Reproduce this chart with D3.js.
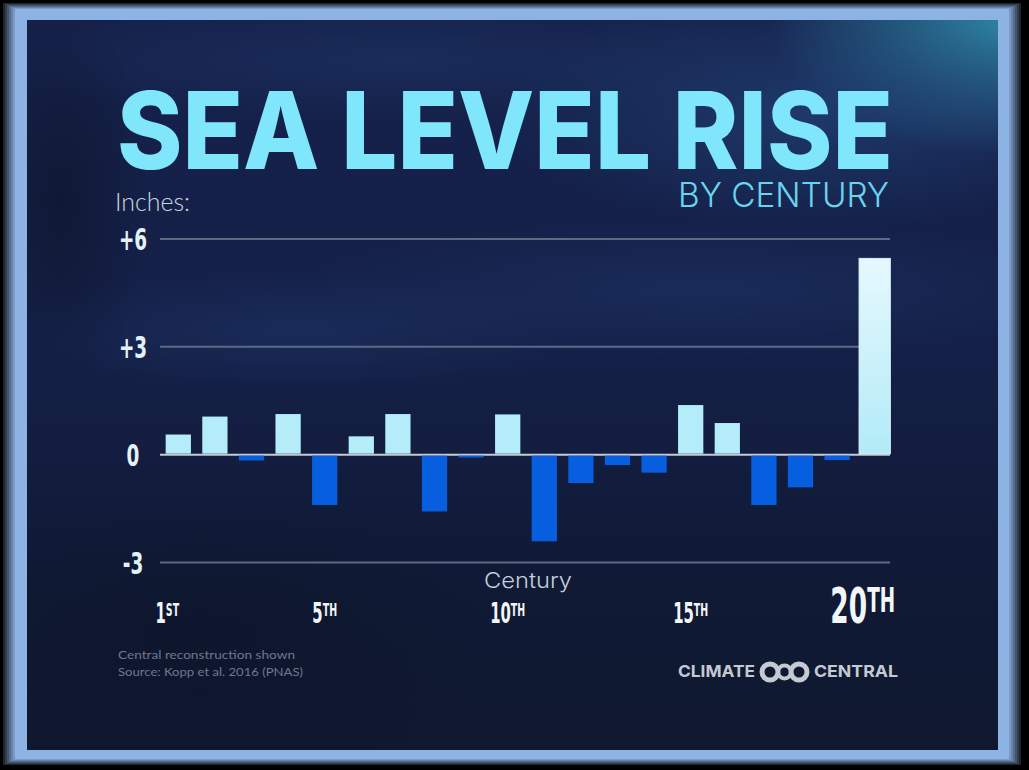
<!DOCTYPE html>
<html><head><meta charset="utf-8">
<script src="https://cdn.jsdelivr.net/npm/d3@7"></script>
<style>html,body{margin:0;padding:0;background:#000;}svg{display:block;}</style>
</head><body>
<svg id="c" width="1029" height="770"></svg>
<script>
// ---- data ----
const centuries = d3.range(1, 21);
const rise = [0.56, 1.06, -0.16, 1.13, -1.40, 0.51, 1.13, -1.58, -0.08, 1.12,
              -2.41, -0.79, -0.29, -0.50, 1.38, 0.88, -1.40, -0.91, -0.15, 5.46];
const yTicks = [6, 3, 0, -3];
const yTickLabels = ["+6", "+3", "0", "-3"];
const xTickCenturies = [1, 5, 10, 15, 20];
const xTickNums = ["1", "5", "10", "15", "20"];
const xTickSups = ["ST", "TH", "TH", "TH", "TH"];

const svg = d3.select("#c");
const W = 1029, H = 770;
const defs = svg.append("defs");
const condFont = "'DejaVu Sans Condensed', 'DejaVu Sans', sans-serif";

// ---- frame ----
svg.append("rect").attr("width", W).attr("height", H).attr("fill", "#000");
const bev = d3.interpolateRgb("#20252f", "#8db3e4");
for (let i = 0; i <= 6; i++) {
  svg.append("rect").attr("x", 3 + i * 2).attr("y", 3 + i)
    .attr("width", 1018 - 4 * i).attr("height", 762 - 2 * i)
    .attr("fill", bev(i / 6));
}
svg.append("rect").attr("x", 15).attr("y", 10).attr("width", 994).attr("height", 748).attr("fill", "#8db3e4");

// ---- background image area ----
const IX = 27, IY = 20, IW = 971, IH = 730;
defs.append("clipPath").attr("id", "clip").append("rect")
  .attr("x", IX).attr("y", IY).attr("width", IW).attr("height", IH);
const lg = defs.append("linearGradient").attr("id", "bg").attr("x1", 0).attr("y1", 0).attr("x2", 0).attr("y2", 1);
lg.append("stop").attr("offset", 0).attr("stop-color", "#15214a");
lg.append("stop").attr("offset", 0.45).attr("stop-color", "#142048");
lg.append("stop").attr("offset", 0.75).attr("stop-color", "#101a36");
lg.append("stop").attr("offset", 1).attr("stop-color", "#0f182f");
function radial(id, color, op) {
  const r = defs.append("radialGradient").attr("id", id);
  r.append("stop").attr("offset", 0).attr("stop-color", color).attr("stop-opacity", op);
  r.append("stop").attr("offset", 1).attr("stop-color", color).attr("stop-opacity", 0);
}
radial("g1", "#2f8aa8", 0.95);
radial("g2", "#244a80", 0.6);
radial("g3", "#1f3566", 0.55);
radial("g4", "#0c1428", 0.6);
const bgG = svg.append("g").attr("clip-path", "url(#clip)");
bgG.append("rect").attr("x", IX).attr("y", IY).attr("width", IW).attr("height", IH).attr("fill", "url(#bg)");
bgG.append("ellipse").attr("cx", 1000).attr("cy", 25).attr("rx", 230).attr("ry", 130).attr("fill", "url(#g1)");
bgG.append("ellipse").attr("cx", 820).attr("cy", 110).attr("rx", 330).attr("ry", 120).attr("fill", "url(#g2)");
bgG.append("ellipse").attr("cx", 400).attr("cy", 60).attr("rx", 420).attr("ry", 60).attr("fill", "url(#g3)");
bgG.append("ellipse").attr("cx", 700).attr("cy", 290).attr("rx", 420).attr("ry", 70).attr("fill", "url(#g3)");
bgG.append("ellipse").attr("cx", 300).attr("cy", 330).attr("rx", 300).attr("ry", 60).attr("fill", "url(#g3)");
bgG.append("ellipse").attr("cx", 200).attr("cy", 640).attr("rx", 300).attr("ry", 140).attr("fill", "url(#g4)");
bgG.append("ellipse").attr("cx", 60).attr("cy", 200).attr("rx", 90).attr("ry", 200).attr("fill", "url(#g4)");

// ---- titles ----
svg.append("text").attr("x", 117).attr("y", 169)
  .attr("textLength", 776).attr("lengthAdjust", "spacingAndGlyphs")
  .attr("font-family", "Inter, 'Open Sans', sans-serif").attr("font-weight", 800)
  .attr("font-size", 107).attr("fill", "#7fe6fb").text("SEA LEVEL RISE");
svg.append("text").attr("x", 678).attr("y", 207)
  .attr("textLength", 211).attr("lengthAdjust", "spacingAndGlyphs")
  .attr("font-family", "Inter, 'Open Sans', sans-serif").attr("font-weight", 300)
  .attr("font-size", 34).attr("fill", "#6ad4ef").text("BY CENTURY");
svg.append("text").attr("x", 115).attr("y", 211)
  .attr("textLength", 75).attr("lengthAdjust", "spacingAndGlyphs")
  .attr("font-family", "Lato, Inter, sans-serif").attr("font-weight", 300)
  .attr("font-size", 25).attr("fill", "#cdd5df").text("Inches:");

// ---- scales ----
const x = d3.scaleBand().domain(centuries).range([160, 892]).paddingInner(0.31).paddingOuter(0.155);
const y = d3.scaleLinear().domain([-3, 6]).range([562.5, 239]);

// grid lines
svg.append("g").selectAll("line").data(yTicks).join("line")
  .attr("x1", 160).attr("x2", 890)
  .attr("y1", d => y(d)).attr("y2", d => y(d))
  .attr("stroke", d => d === 0 ? "#c3cad8" : "#5d6a86")
  .attr("stroke-width", 2);

// y labels
svg.append("g").selectAll("text").data(yTicks).join("text")
  .attr("transform", d => `translate(133,${y(d) + 11}) scale(0.66,1)`)
  .attr("text-anchor", "middle")
  .attr("font-family", condFont)
  .attr("font-weight", "bold").attr("font-size", 31)
  .attr("fill", "#e2f3f8")
  .text((d, i) => yTickLabels[i]);

// bars
const lastGrad = defs.append("linearGradient").attr("id", "lastbar").attr("x1", 0).attr("y1", 0).attr("x2", 0).attr("y2", 1);
lastGrad.append("stop").attr("offset", 0).attr("stop-color", "#e6f8fd");
lastGrad.append("stop").attr("offset", 1).attr("stop-color", "#b2ebf8");
const bw = x.bandwidth();
const data = centuries.map((c, i) => ({ c, v: rise[i], last: i === centuries.length - 1 }));
svg.append("g").selectAll("rect").data(data).join("rect")
  .attr("x", d => d.last ? x(d.c) - 2 : x(d.c))
  .attr("width", d => d.last ? bw + 6 : bw)
  .attr("y", d => d.v >= 0 ? y(d.v) : y(0) + 1)
  .attr("height", d => Math.abs(y(d.v) - y(0)) - 1)
  .attr("fill", d => d.last ? "url(#lastbar)" : (d.v >= 0 ? "#b5ecfa" : "#075fe0"))
  .attr("stroke", d => d.last ? "#d8f3fb" : "none")
  .attr("stroke-width", 1);

// x axis title
svg.append("text").attr("x", 528).attr("y", 588).attr("text-anchor", "middle")
  .attr("textLength", 88).attr("lengthAdjust", "spacingAndGlyphs")
  .attr("font-family", "Inter, Lato, sans-serif").attr("font-weight", 300)
  .attr("font-size", 22).attr("fill", "#c6ceda").text("Century");

// x tick labels
const xl = svg.append("g").selectAll("g").data(xTickCenturies).join("g")
  .attr("transform", (d, i) => {
    const big = d === 20;
    const cx = x(d) + bw / 2 + (i === 0 || big ? -11 : 0);
    return `translate(${cx},623) scale(0.6,1)`;
  });
xl.append("text").attr("text-anchor", "middle")
  .attr("font-family", condFont)
  .attr("font-weight", "bold").attr("fill", "#f2f6f9")
  .each(function (d, i) {
    const big = d === 20;
    const t = d3.select(this);
    t.append("tspan").attr("font-size", big ? 49 : 27.5).text(xTickNums[i]);
    t.append("tspan").attr("font-size", big ? 34 : 17.5)
      .attr("dy", big ? -11 : -7.3).text(xTickSups[i]);
  });

// footer
svg.append("text").attr("x", 118).attr("y", 659)
  .attr("textLength", 177).attr("lengthAdjust", "spacingAndGlyphs")
  .attr("font-family", "Lato, sans-serif").attr("font-size", 12).attr("fill", "#6e798d")
  .text("Central reconstruction shown");
svg.append("text").attr("x", 118).attr("y", 676)
  .attr("textLength", 185).attr("lengthAdjust", "spacingAndGlyphs")
  .attr("font-family", "Lato, sans-serif").attr("font-size", 12).attr("fill", "#6e798d")
  .text("Source: Kopp et al. 2016 (PNAS)");

// logo
const logoCol = "#c4c9d2";
svg.append("text").attr("x", 678).attr("y", 677)
  .attr("textLength", 77).attr("lengthAdjust", "spacingAndGlyphs")
  .attr("font-family", "Inter, sans-serif").attr("font-weight", 700)
  .attr("font-size", 16.5).attr("fill", logoCol).text("CLIMATE");
svg.append("text").attr("x", 814).attr("y", 677)
  .attr("textLength", 84).attr("lengthAdjust", "spacingAndGlyphs")
  .attr("font-family", "Inter, sans-serif").attr("font-weight", 700)
  .attr("font-size", 16.5).attr("fill", logoCol).text("CENTRAL");
const rings = svg.append("g");
[[770, 8, 5], [784.5, 6.5, 4], [799, 8, 5]].forEach(([cx, r, sw]) => {
  rings.append("circle").attr("cx", cx).attr("cy", 672).attr("r", r)
    .attr("fill", "none").attr("stroke", logoCol).attr("stroke-width", sw);
});
</script>
</body></html>
